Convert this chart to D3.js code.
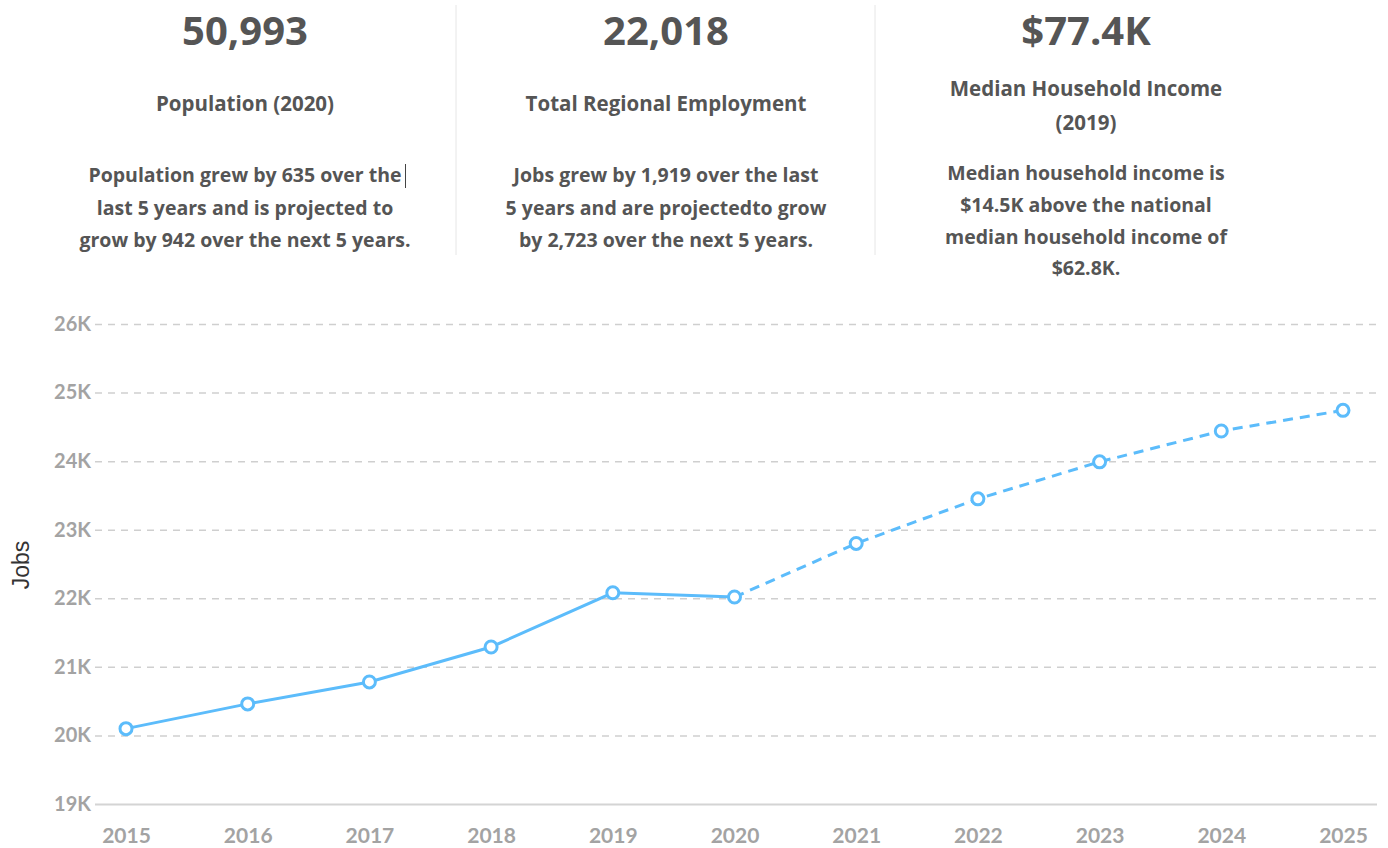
<!DOCTYPE html>
<html>
<head>
<meta charset="utf-8">
<script src="https://cdn.jsdelivr.net/npm/d3@7"></script>
<style>
  body { margin: 0; background: #fff; }
  svg { display: block; }
</style>
</head>
<body>
<div class="usable"></div>
<script>
// datos
const years = [2015, 2016, 2017, 2018, 2019, 2020, 2021, 2022, 2023, 2024, 2025]
const jobs = [20099, 20460, 20780, 21290, 22080, 22018, 22800, 23450, 23990, 24440, 24741]
const lastActual = 2020
const yTicks = [19000, 20000, 21000, 22000, 23000, 24000, 25000, 26000]

const statValues = ["50,993", "22,018", "$77.4K"]
const statTitles = [["Population (2020)"], ["Total Regional Employment"], ["Median Household Income", "(2019)"]]
const statTexts = [
    ["Population grew by 635 over the", "last 5 years and is projected to", "grow by 942 over the next 5 years."],
    ["Jobs grew by 1,919 over the last", "5 years and are projectedto grow", "by 2,723 over the next 5 years."],
    ["Median household income is", "$14.5K above the national", "median household income of", "$62.8K."]
]

const W = 1388, H = 848
const blue = "#5cbcfb"
const textGrey = "#555"

let svg = d3.select(".usable").append("svg")
    .attr("width", W)
    .attr("height", H)

// --- cabecera con tres indicadores
const colX = [245, 666, 1086]
const titleY = [[111], [111], [96, 130]]
const paraY = [[182, 215, 247], [182, 215, 247], [180, 212, 244, 275]]

let head = svg.append("g").attr("font-family", "'Open Sans', sans-serif")
    .attr("font-weight", 700).attr("fill", textGrey).attr("text-anchor", "middle")

statValues.forEach((v, i) => {
    head.append("text").text(v)
        .attr("x", colX[i]).attr("y", 45)
        .attr("font-size", 40)
    statTitles[i].forEach((t, j) => {
        head.append("text").text(t)
            .attr("x", colX[i]).attr("y", titleY[i][j])
            .attr("font-size", 20.5)
    })
    statTexts[i].forEach((t, j) => {
        head.append("text").text(t)
            .attr("x", colX[i]).attr("y", paraY[i][j])
            .attr("font-size", 19.5)
    })
})

// separadores verticales
;[456, 875].forEach(x => {
    svg.append("line")
        .attr("x1", x).attr("x2", x).attr("y1", 5).attr("y2", 255)
        .attr("stroke", "#e6e6e6").attr("stroke-width", 1)
})

// cursor de texto
svg.append("line")
    .attr("x1", 405.5).attr("x2", 405.5).attr("y1", 164).attr("y2", 188)
    .attr("stroke", "#444").attr("stroke-width", 1)

// --- grafico de lineas
const x = d3.scalePoint().domain(years).range([126, 1343])
const y = d3.scaleLinear().domain([19000, 26000]).range([804, 324])
const gridX0 = 95, gridX1 = 1380

let grid = svg.append("g")
grid.selectAll("line").data(yTicks.filter(d => d > 19000)).join("line")
    .attr("x1", gridX0).attr("x2", gridX1)
    .attr("y1", d => y(d) + 0.5).attr("y2", d => y(d) + 0.5)
    .attr("stroke", "#cfcfcf").attr("stroke-width", 1.5)
    .attr("stroke-dasharray", "7,6")

svg.append("line")
    .attr("x1", gridX0).attr("x2", 1377)
    .attr("y1", y(19000) + 0.5).attr("y2", y(19000) + 0.5)
    .attr("stroke", "#d4d4d4").attr("stroke-width", 2)

// ejes
let yAxis = svg.append("g")
    .attr("transform", `translate(${gridX0 - 4},0)`)
    .call(d3.axisLeft(y).tickValues(yTicks).tickSize(0).tickPadding(0)
        .tickFormat(d => d3.format("d")(d / 1000) + "K"))
yAxis.select(".domain").remove()
yAxis.selectAll("text")
    .attr("font-family", "Lato, sans-serif").attr("font-weight", 700)
    .attr("font-size", 20).attr("fill", "#a3a3a3")

let xAxis = svg.append("g")
    .attr("transform", `translate(0,${y(19000)})`)
    .call(d3.axisBottom(x).tickSize(0).tickPadding(24))
xAxis.select(".domain").remove()
xAxis.selectAll("text")
    .attr("font-family", "Lato, sans-serif").attr("font-weight", 700)
    .attr("font-size", 21).attr("fill", "#a3a3a3")

svg.append("text").text("Jobs")
    .attr("transform", "translate(29,565) rotate(-90)")
    .attr("text-anchor", "middle")
    .attr("font-family", "'Liberation Sans', Arial, sans-serif")
    .attr("font-size", 23).attr("fill", "#333")

// series
const pts = years.map((yr, i) => ({ yr: yr, v: jobs[i] }))
const actual = pts.filter(d => d.yr <= lastActual)
const forecast = pts.filter(d => d.yr >= lastActual)

let line = d3.line().x(d => x(d.yr)).y(d => y(d.v))

svg.append("path").datum(actual)
    .attr("d", line).attr("fill", "none")
    .attr("stroke", blue).attr("stroke-width", 3)

svg.append("path").datum(forecast)
    .attr("d", line).attr("fill", "none")
    .attr("stroke", blue).attr("stroke-width", 3)
    .attr("stroke-dasharray", "10,7")

svg.append("g").selectAll("circle").data(pts).join("circle")
    .attr("cx", d => x(d.yr)).attr("cy", d => y(d.v))
    .attr("r", 6)
    .attr("fill", "#fff").attr("stroke", blue).attr("stroke-width", 3)
</script>
</body>
</html>
